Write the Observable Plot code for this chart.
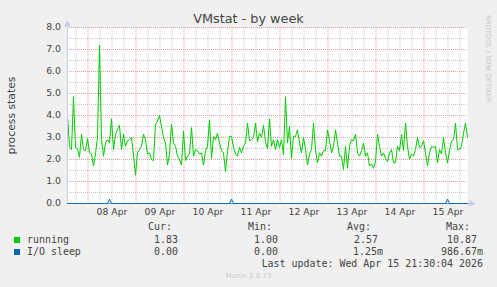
<!DOCTYPE html>
<html><head><meta charset="utf-8">
<script src="https://cdn.jsdelivr.net/npm/d3@7"></script>
<script src="https://cdn.jsdelivr.net/npm/@observablehq/plot@0.6"></script>
<style>
html,body{margin:0;padding:0;background:#f0f0f0;}
#wrap{position:relative;width:497px;height:287px;overflow:hidden;font-family:"DejaVu Sans",sans-serif;}
#title{height:20px;line-height:20px;text-align:center;font-size:12.8px;color:#444;position:relative;top:8.5px;white-space:nowrap;}
#chart svg{display:block;}
#chart [aria-label="y-axis label"] text{font-size:10.8px;}
#legend{position:relative;height:66px;font-family:"DejaVu Sans Mono",monospace;font-size:9.95px;color:#444;}
#legend .t{position:absolute;line-height:12px;white-space:pre;}
#legend .sw{position:absolute;width:6px;height:6px;}
#munin{position:absolute;left:0;width:497px;text-align:center;font-family:"DejaVu Sans",sans-serif;font-size:7px;line-height:9px;color:#c8c8c8;}
#rrd{position:absolute;left:484px;top:15px;writing-mode:vertical-rl;font-size:6.8px;color:#c4c4c4;white-space:nowrap;line-height:7px;}
</style>
</head><body>
<div id="wrap">
  <div id="title"></div>
  <div id="chart"></div>
  <div id="legend"></div>
  <div id="rrd">RRDTOOL / TOBI OETIKER</div>
</div>
<script>
// ---- data ----
const titleText = "VMstat - by week";
const yLabel = "process states";
const seriesNames = ["running", "I/O sleep"];
const seriesColors = ["#00cc00", "#0066b3"];
// hourly samples starting 2026-04-07 13:45 UTC
const startTime = Date.UTC(2026, 3, 7, 13, 45);
const endTime = Date.UTC(2026, 3, 15, 21, 45);
const running = [
  4.0, 2.6, 2.45, 4.85, 2.55, 2.5, 2.1, 3.15, 2.45, 2.4, 2.95, 2.3, 2.25, 1.7, 2.25, 3.0, 7.2, 2.9, 2.15, 2.75,
  2.9, 2.75, 3.85, 2.45, 3.15, 3.35, 3.55, 2.45, 3.15, 2.6, 2.85, 2.9, 3.0, 2.2, 1.3, 2.3, 2.45, 2.6, 3.15, 2.9,
  2.25, 2.3, 2.0, 1.95, 3.6, 3.75, 4.0, 3.5, 3.0, 2.75, 1.75,
  2.25, 3.6, 2.75, 2.6, 2.15, 2.0, 1.75, 3.3, 1.95, 2.15, 2.25, 3.45, 2.15, 2.45, 2.4, 2.25, 2.3, 1.75, 2.4, 2.6,
  3.8, 2.05, 3.05, 2.9, 3.2, 2.75, 2.4, 2.3, 1.45, 2.35, 3.05, 3.05, 2.55, 2.25, 2.15, 2.55, 2.3, 2.6, 2.75, 3.65,
  2.85, 2.9, 3.0, 3.65, 2.8, 3.2, 3.0, 3.55, 2.8, 2.5,
  3.85, 2.6, 2.9, 2.45, 2.9, 2.55, 2.9, 2.2, 4.85, 2.75, 3.5, 2.05, 3.05, 3.05, 3.35, 2.75, 2.3, 3.0, 2.45, 1.75,
  2.25, 2.45, 3.65, 2.45, 1.85, 2.3, 2.15, 2.4, 2.4, 3.35, 2.85, 2.3, 2.6, 3.35, 2.75, 2.15, 2.15, 1.55, 2.6, 1.6,
  2.6, 2.9, 2.85, 3.15, 2.3, 2.15, 2.4, 2.75, 2.15, 2.3,
  1.7, 1.8, 1.6, 1.9, 3.15, 2.6, 2.15, 2.3, 2.05, 1.9, 2.3, 2.45, 1.85, 1.85, 2.6, 2.4, 3.15, 2.4, 3.65, 2.6,
  2.0, 2.25, 2.15, 2.45, 3.0, 2.55, 2.6, 2.85, 2.3, 1.7, 2.3, 2.6, 2.55, 2.6, 1.85, 2.45, 2.25, 3.0, 2.3, 1.85,
  2.4, 2.85, 2.9, 3.65, 2.45, 2.45, 2.6, 3.2, 3.65, 3.0
];
// I/O sleep: zero except for these [sample index, value] spikes
const ioSleepSpikes = [[21, 0.2], [82, 0.2], [190, 0.2]];
const yTicks = [0, 1, 2, 3, 4, 5, 6, 7, 8];
const yMinorTicks = [0.5, 1.5, 2.5, 3.5, 4.5, 5.5, 6.5, 7.5];
const xTickDays = [8, 9, 10, 11, 12, 13, 14, 15];
const legendHeaders = ["Cur:", "Min:", "Avg:", "Max:"];
const legendRunning = ["1.83", "1.00", "2.57", "10.87"];
const legendIoSleep = ["0.00", "0.00", "1.25m", "986.67m"];
const lastUpdate = "Last update: Wed Apr 15 21:30:04 2026";
const muninVersion = "Munin 2.0.73";

// ---- build tables ----
const HOUR = 3600e3;
const runData = running.map((v, i) => ({t: new Date(startTime + i * HOUR), v}));
const spikeMap = new Map(ioSleepSpikes);
const ioData = running.map((_, i) => ({t: new Date(startTime + i * HOUR), v: spikeMap.get(i) ?? 0}));
const t0 = new Date(startTime), t1 = new Date(endTime);
const xMajor = xTickDays.map(d => new Date(Date.UTC(2026, 3, d)));
const xMinor = d3.utcHour.every(6).range(t0, t1).filter(d => d.getUTCHours() !== 0);
const xTicks = xTickDays.map(d => new Date(Date.UTC(2026, 3, d, 12)));

document.getElementById("title").textContent = titleText;

const chart = Plot.plot({
  width: 497, height: 201,
  marginLeft: 67, marginRight: 30, marginTop: 7, marginBottom: 18,
  style: {background: "transparent", fontFamily: "DejaVu Sans, sans-serif", fontSize: "9.3px", color: "#444", overflow: "visible"},
  x: {type: "utc", domain: [t0, t1]},
  y: {domain: [0, 8]},
  marks: [
    Plot.frame({fill: "white", stroke: "none"}),
    Plot.ruleY(yMinorTicks, {stroke: "#c8c8c8", strokeDasharray: "1,1"}),
    Plot.ruleX(xMinor, {stroke: "#c8c8c8", strokeDasharray: "1,1", insetBottom: -2}),
    Plot.ruleY(yTicks, {stroke: "#e79b9b", strokeDasharray: "1,1"}),
    Plot.ruleX(xMajor, {stroke: "#e79b9b", strokeDasharray: "1,1", insetBottom: -2}),
    Plot.line(runData, {x: "t", y: "v", stroke: seriesColors[0], strokeWidth: 1}),
    Plot.ruleX([t0], {stroke: "#c6cbf0"}),
    Plot.ruleY([0], {stroke: "#7d9cda", insetRight: -2}),
    Plot.line(ioData, {x: "t", y: "v", stroke: seriesColors[1], strokeWidth: 1}),
    Plot.dot([{x: t0, y: 8}], {x: "x", y: "y", symbol: "triangle", r: 2.6, fill: "#c6cbf0", stroke: "none", dy: -3}),
    Plot.dot([{x: t1, y: 0}], {x: "x", y: "y", symbol: "triangle", r: 2.6, fill: "#c6cbf0", stroke: "none", rotate: 90, dx: 4}),
    Plot.axisY(yTicks, {tickSize: 0, tickPadding: 6.5, tickFormat: d3.format(".1f"), label: yLabel, labelAnchor: "center", labelArrow: "none", labelOffset: 60}),
    Plot.axisX(xTicks, {tickSize: 0, tickPadding: 5, tickFormat: d3.utcFormat("%d %b"), label: null})
  ]
});
document.getElementById("chart").appendChild(chart);

// ---- legend ----
const legend = document.getElementById("legend");
const L0 = 221; // page y where legend starts
function addText(txt, top, opts) {
  const el = document.createElement("div");
  el.className = "t";
  el.textContent = txt;
  el.style.top = (top - L0) + "px";
  if (opts.left != null) el.style.left = opts.left + "px";
  if (opts.right != null) el.style.right = (497 - opts.right) + "px";
  legend.appendChild(el);
}
function addSwatch(color, top) {
  const el = document.createElement("div");
  el.className = "sw";
  el.style.background = color;
  el.style.left = "14px";
  el.style.top = (top - L0) + "px";
  legend.appendChild(el);
}
const colRightHeader = [172, 272, 371, 470];
const colRightRun = [178, 278, 378, 477];
const colRightIo = [178, 278, 383, 483];
legendHeaders.forEach((h, i) => addText(h, 221.3, {right: colRightHeader[i]}));
addSwatch(seriesColors[0], 237);
addText(seriesNames[0], 234, {left: 27});
legendRunning.forEach((v, i) => addText(v, 234, {right: colRightRun[i]}));
addSwatch(seriesColors[1], 249);
addText(seriesNames[1], 246, {left: 27});
legendIoSleep.forEach((v, i) => addText(v, 246, {right: colRightIo[i]}));
addText(lastUpdate, 258, {right: 483});
const mu = document.createElement("div");
mu.id = "munin";
mu.textContent = muninVersion;
mu.style.top = (271.6 - L0) + "px";
legend.appendChild(mu);
</script>
</body></html>
